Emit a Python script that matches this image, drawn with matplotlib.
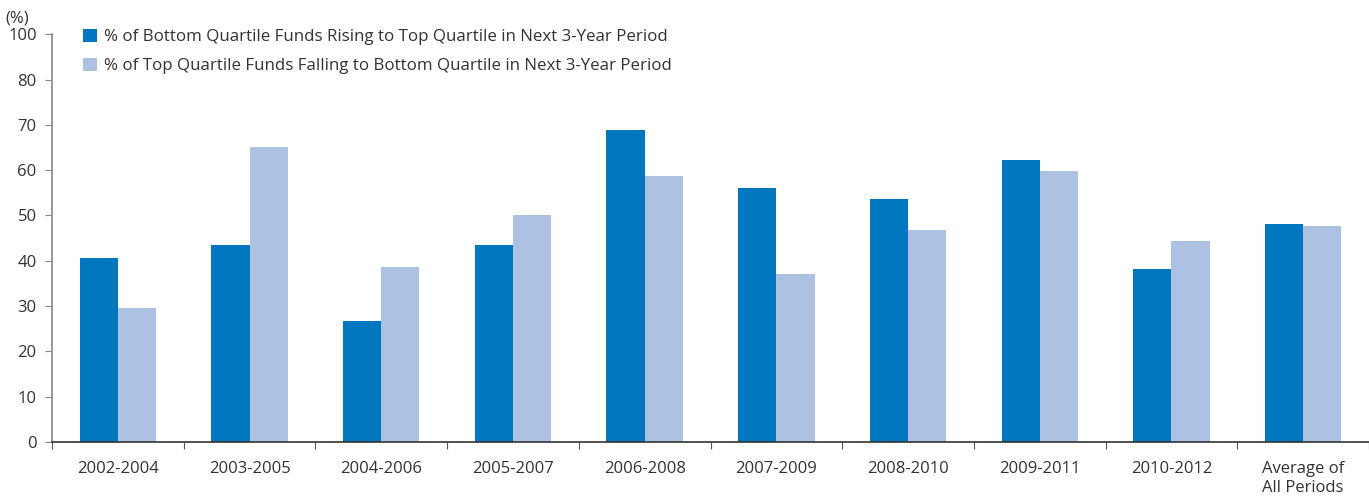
import matplotlib
matplotlib.use("Agg")
import matplotlib.pyplot as plt
import numpy as np

# data
periods = ["2002-2004", "2003-2005", "2004-2006", "2005-2007", "2006-2008",
           "2007-2009", "2008-2010", "2009-2011", "2010-2012", "Average of\nAll Periods"]
rising = [40.5, 43.5, 26.6, 43.5, 68.9, 56.0, 53.6, 62.2, 38.1, 48.2]
falling = [29.5, 65.1, 38.6, 50.1, 58.8, 37.1, 46.7, 59.8, 44.3, 47.7]
ytick_vals = [0, 10, 20, 30, 40, 50, 60, 70, 80, 90]
ytick_text = ["0", "10", "20", "30", "40", "50", "60", "70", "80", "100"]

dark = "#0077bf"
light = "#adc2e3"

plt.rcParams['font.family'] = ['Open Sans', 'DejaVu Sans']

fig = plt.figure(figsize=(13.69, 4.96), dpi=100)
ax = fig.add_axes([0.038, 0.109, 0.962, 0.822])

x = np.arange(len(periods))
w = 0.29
ax.bar(x - w/2, rising, w, color=dark, label="% of Bottom Quartile Funds Rising to Top Quartile in Next 3-Year Period")
ax.bar(x + w/2, falling, w, color=light, label="% of Top Quartile Funds Falling to Bottom Quartile in Next 3-Year Period")

ax.set_xlim(-0.5, len(periods) - 0.5)
ax.set_ylim(0, 90)
ax.set_yticks(ytick_vals)
ax.set_yticklabels(ytick_text, fontsize=12, color="#333333")

# x ticks sit between groups, labels at group centres
ax.set_xticks(np.arange(len(periods) + 1) - 0.5)
ax.set_xticklabels([])
ax.set_xticks(x, minor=True)
ax.set_xticklabels(periods, minor=True, fontsize=12, color="#333333")
ax.tick_params(axis="x", which="minor", length=0, pad=14)
ax.tick_params(axis="x", which="major", length=5, color="#555555", direction="out")
ax.tick_params(axis="y", length=5, color="#888888", direction="out", pad=6)

for s in ["top", "right"]:
    ax.spines[s].set_visible(False)
ax.spines["left"].set_color("#888888")
ax.spines["left"].set_linewidth(1.2)
ax.spines["bottom"].set_color("#333333")
ax.spines["bottom"].set_linewidth(1.2)

leg = ax.legend(loc="upper left", bbox_to_anchor=(0.0185, 1.03), frameon=False,
                fontsize=12.2, handlelength=0.8, handleheight=0.8, handletextpad=0.45,
                labelspacing=0.75, borderaxespad=0)
for t in leg.get_texts():
    t.set_color("#333333")

fig.text(0.004, 0.963, "(%)", fontsize=12, color="#333333", va="center", ha="left")

fig.savefig("out.png", dpi=100)
